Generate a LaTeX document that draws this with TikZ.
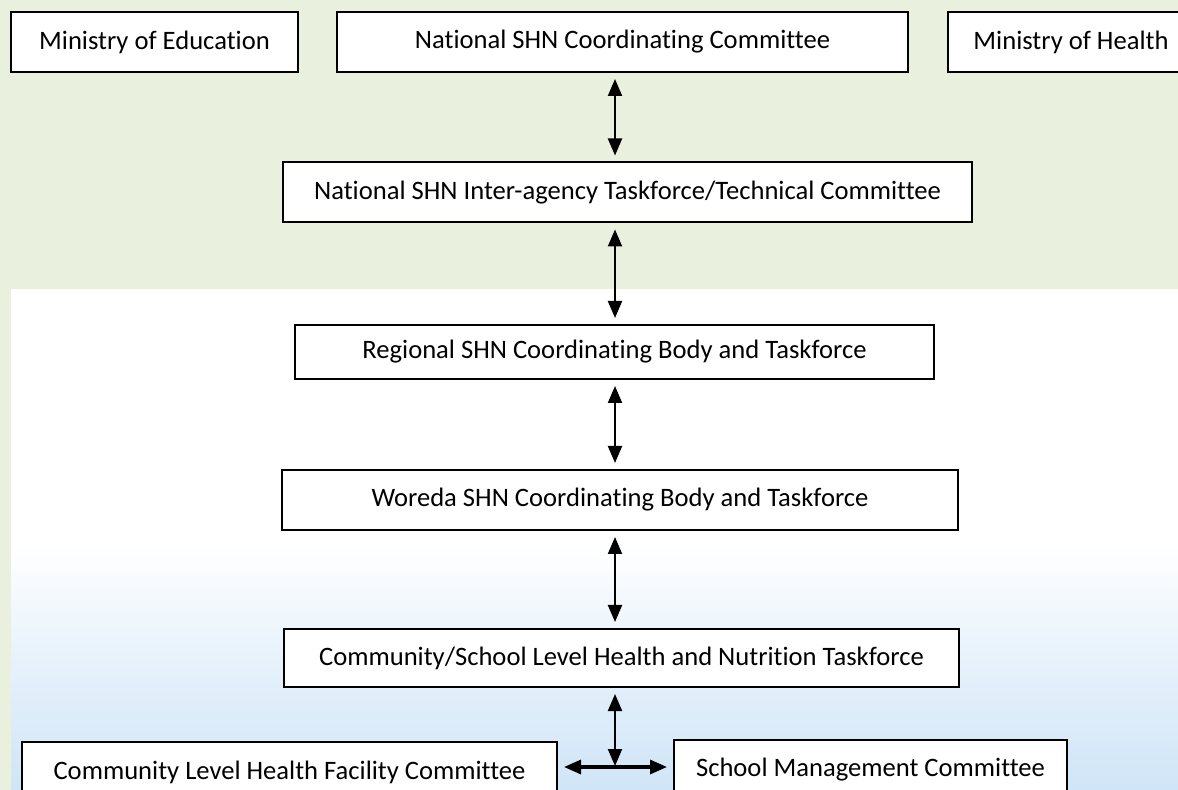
\documentclass[tikz,border=0pt]{standalone}
\usepackage{fontspec}
\setmainfont{Carlito}[Ligatures={NoCommon}]
\usepackage{tikz}
\usetikzlibrary{arrows.meta}

\definecolor{leafbg}{RGB}{233,240,221}
\definecolor{skybg}{RGB}{208,229,247}

\tikzset{
  unit/.style={draw, fill=white, line width=1pt, minimum height=30pt, inner sep=0pt,
    font=\fontsize{13.3}{16}\selectfont},
  link/.style={<->, >={Triangle[length=8.5pt,width=7pt]}, line width=1pt,
    shorten <=3pt, shorten >=3pt}
}

\begin{document}
\begin{tikzpicture}[x=0.5pt,y=-0.5pt]
 \useasboundingbox (0,0) rectangle (1178,790);
 % background
 \fill[leafbg] (0,0) rectangle (1178,790);
 \fill[white] (11,289) rectangle (1178,790);
 \shade[top color=white, bottom color=skybg, middle color=skybg!55] (11,545) rectangle (1178,790);

 % national level
 \node[unit, minimum width=143.5pt] (moe) at (154.5,42) {Ministry of Education};
 \node[unit, minimum width=285.5pt] (ncc) at (622.5,42) {National SHN Coordinating Committee};
 \node[unit, minimum width=123pt] (moh) at (1071,42) {Ministry of Health};
 \node[unit, minimum width=344.5pt] (nit) at (627.5,192.5) {National SHN Inter-agency Taskforce/Technical Committee};

 % lower levels
 \node[unit, minimum width=319.5pt, minimum height=27pt] (reg) at (614.5,352) {Regional SHN Coordinating Body and Taskforce};
 \node[unit, minimum width=338pt] (wor) at (620,500) {Woreda SHN Coordinating Body and Taskforce};
 \node[unit, minimum width=337.5pt, minimum height=29pt] (csl) at (621.5,658) {Community/School Level Health and Nutrition Taskforce};
 \node[unit, minimum width=267.5pt] (clhf) at (289.5,772) {Community Level Health Facility Committee};
 \node[unit, minimum width=196.5pt] (smc) at (870.5,770) {School Management Committee};

 \coordinate (spine) at (615,0);
 \coordinate (split) at (615,767);

 \path[link]
  (ncc.south -| spine) edge (nit.north -| spine)
  (nit.south -| spine) edge (reg.north -| spine)
  (reg.south -| spine) edge (wor.north -| spine)
  (wor.south -| spine) edge (csl.north -| spine)
  (csl.south -| spine) edge[shorten >=0.5pt] (split)
  (clhf.east |- split) edge[line width=1.6pt] (smc.west |- split)
 ;
\end{tikzpicture}
\end{document}
